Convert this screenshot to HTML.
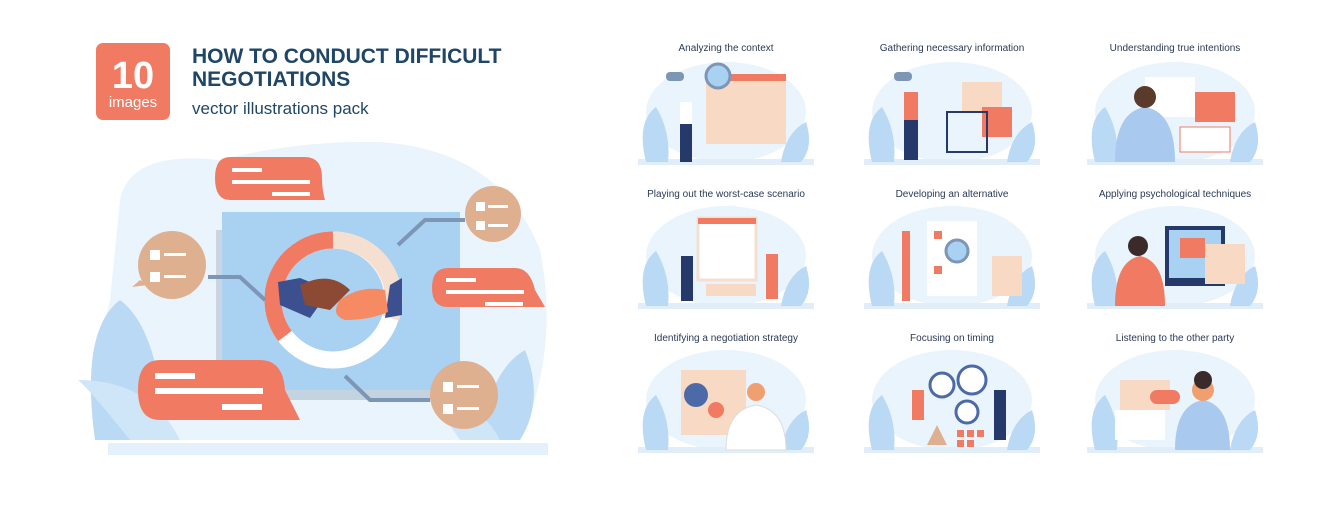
<!DOCTYPE html>
<html><head><meta charset="utf-8"><style>
body{margin:0;background:#fff;width:1336px;height:500px;overflow:hidden;font-family:"Liberation Sans",sans-serif}
</style></head><body>
<svg width="1336" height="500" viewBox="0 0 1336 500" xmlns="http://www.w3.org/2000/svg" font-family="Liberation Sans, sans-serif">
<rect width="1336" height="500" fill="#fff"/>
<!-- badge -->
<rect x="96" y="43" width="74" height="77" rx="7" fill="#f07b62"/>
<text x="133" y="88" font-size="38" font-weight="bold" fill="#fff" text-anchor="middle">10</text>
<text x="133" y="107" font-size="15" fill="#fff" text-anchor="middle">images</text>
<text x="192" y="63" font-size="21" font-weight="bold" fill="#1f4666">HOW TO CONDUCT DIFFICULT</text>
<text x="192" y="86" font-size="21" font-weight="bold" fill="#1f4666">NEGOTIATIONS</text>
<text x="192" y="114" font-size="17" fill="#1f4666">vector illustrations pack</text>
<!-- big blob -->
<path d="M120 200 Q130 150 220 160 Q300 140 380 142 Q500 150 540 250 Q560 350 520 440 L130 440 Q90 380 110 300 Z" fill="#eaf4fc"/>
<rect x="108" y="443" width="440" height="12" fill="#e4f0fb"/>
<!-- leaves -->
<path d="M95 440 Q80 330 120 300 Q160 330 165 440 Z" fill="#b9d9f5"/>
<path d="M130 440 Q90 390 78 380 Q150 380 180 440 Z" fill="#cfe5f8"/>
<path d="M480 440 Q490 370 525 350 Q545 400 520 440 Z" fill="#b9d9f5"/>
<path d="M460 440 Q440 410 430 400 Q480 400 500 440 Z" fill="#cfe5f8"/>
<!-- monitor -->
<rect x="216" y="230" width="10" height="160" fill="#c9d6e2"/>
<rect x="222" y="212" width="238" height="186" fill="#a9d1f2"/>
<rect x="222" y="390" width="238" height="10" fill="#c4d3e0"/>
<!-- ring -->
<circle cx="333" cy="300" r="60" fill="none" stroke="#fff" stroke-width="17"/>
<path d="M333 240 A60 60 0 0 0 285 336" fill="none" stroke="#f07b62" stroke-width="17"/>
<path d="M333 240 A60 60 0 0 1 391 318" fill="none" stroke="#f5dfd0" stroke-width="17"/>
<circle cx="333" cy="300" r="51" fill="#a9d1f2"/>
<!-- hands -->
<path d="M278 282 L300 278 L330 290 L310 318 L280 305 Z" fill="#3c4f8f"/>
<path d="M300 285 Q330 270 350 290 L330 310 L305 305 Z" fill="#8c4a34"/>
<path d="M390 285 L402 278 L402 315 L385 318 Z" fill="#3c4f8f"/>
<path d="M385 290 Q360 285 340 300 Q330 315 345 320 Q370 320 388 312 Z" fill="#f58a63"/>
<!-- connectors -->
<polyline points="208,277 240,277 265,300" fill="none" stroke="#7d96b6" stroke-width="4"/>
<polyline points="398,245 425,220 465,220" fill="none" stroke="#7d96b6" stroke-width="4"/>
<polyline points="345,376 370,400 430,400" fill="none" stroke="#7d96b6" stroke-width="4"/>
<!-- bubbles -->
<path d="M230 157 H305 Q322 157 322 178 Q322 190 325 200 L230 200 Q215 200 215 178 Q215 157 230 157 Z" fill="#f07b62"/>
<rect x="232" y="168" width="30" height="4" fill="#fff"/><rect x="232" y="180" width="78" height="4" fill="#fff"/><rect x="272" y="192" width="38" height="4" fill="#fff"/>
<circle cx="172" cy="265" r="34" fill="#dfb08f"/><path d="M140 280 L132 287 L148 285Z" fill="#dfb08f"/>
<circle cx="493" cy="214" r="28" fill="#dfb08f"/>
<path d="M448 268 H515 Q530 268 535 290 L545 307 L448 307 Q432 307 432 288 Q432 268 448 268 Z" fill="#f07b62"/>
<rect x="446" y="278" width="30" height="4" fill="#fff"/><rect x="446" y="290" width="78" height="4" fill="#fff"/><rect x="485" y="302" width="38" height="4" fill="#fff"/>
<path d="M160 360 H260 Q283 360 285 390 L300 420 L160 420 Q138 420 138 390 Q138 360 160 360 Z" fill="#f07b62"/>
<rect x="155" y="373" width="40" height="6" fill="#fff"/><rect x="155" y="388" width="108" height="6" fill="#fff"/><rect x="222" y="404" width="40" height="6" fill="#fff"/>
<circle cx="464" cy="395" r="34" fill="#dfb08f"/>
<g fill="#fff"><rect x="150" y="250" width="10" height="10"/><rect x="150" y="272" width="10" height="10"/><rect x="164" y="253" width="22" height="3"/><rect x="164" y="275" width="22" height="3"/>
<rect x="476" y="202" width="9" height="9"/><rect x="476" y="221" width="9" height="9"/><rect x="488" y="205" width="20" height="3"/><rect x="488" y="224" width="20" height="3"/>
<rect x="443" y="382" width="10" height="10"/><rect x="443" y="404" width="10" height="10"/><rect x="457" y="385" width="22" height="3"/><rect x="457" y="407" width="22" height="3"/></g>

<!-- thumbnails -->
<g font-size="10" fill="#2b3a55" text-anchor="middle">
<text x="726" y="51">Analyzing the context</text>
<text x="952" y="51">Gathering necessary information</text>
<text x="1175" y="51">Understanding true intentions</text>
<text x="726" y="197">Playing out the worst-case scenario</text>
<text x="952" y="197">Developing an alternative</text>
<text x="1175" y="197">Applying psychological techniques</text>
<text x="726" y="341">Identifying a negotiation strategy</text>
<text x="952" y="341">Focusing on timing</text>
<text x="1175" y="341">Listening to the other party</text>
</g>
<defs>
<g id="base">
<ellipse cx="0" cy="50" rx="80" ry="50" fill="#eaf4fc"/>
<rect x="-88" y="97" width="176" height="6" fill="#e1eefa"/>
<path d="M-80 100 Q-90 60 -70 45 Q-55 70 -58 100 Z" fill="#b9d9f5"/>
<path d="M55 100 Q60 70 80 60 Q88 85 75 100 Z" fill="#b9d9f5"/>
</g>
</defs>
<g transform="translate(726,62)"><use href="#base"/>
<rect x="-20" y="12" width="80" height="70" fill="#f7d9c4"/><rect x="-20" y="12" width="80" height="7" fill="#f07b62"/>
<circle cx="-8" cy="14" r="12" fill="#a9d1f2" stroke="#7d96b6" stroke-width="3"/>
<rect x="-46" y="40" width="12" height="30" fill="#fff"/><rect x="-46" y="62" width="12" height="38" fill="#253a6b"/>
<rect x="-60" y="10" width="18" height="9" rx="4" fill="#7d96b6"/></g>
<g transform="translate(952,62)"><use href="#base"/>
<rect x="10" y="20" width="40" height="30" fill="#f7d9c4"/><rect x="30" y="45" width="30" height="30" fill="#f07b62"/>
<rect x="-5" y="50" width="40" height="40" fill="none" stroke="#253a6b" stroke-width="2"/>
<rect x="-48" y="30" width="14" height="30" fill="#f07b62"/><rect x="-48" y="58" width="14" height="40" fill="#253a6b"/>
<rect x="-58" y="10" width="18" height="9" rx="4" fill="#7d96b6"/></g>
<g transform="translate(1175,62)"><use href="#base"/>
<rect x="-30" y="15" width="50" height="40" fill="#fff"/><rect x="20" y="30" width="40" height="30" fill="#f07b62"/>
<path d="M-60 100 Q-60 50 -30 45 Q0 50 0 100 Z" fill="#a9c9ef"/><circle cx="-30" cy="35" r="11" fill="#5a3a2a"/>
<rect x="5" y="65" width="50" height="25" fill="#fff" stroke="#f07b62"/></g>
<g transform="translate(726,206)"><use href="#base"/>
<rect x="-28" y="12" width="58" height="62" fill="#fff" stroke="#f5dfd0" stroke-width="3"/><rect x="-28" y="12" width="58" height="6" fill="#f07b62"/>
<rect x="-45" y="50" width="12" height="45" fill="#253a6b"/><rect x="40" y="48" width="12" height="45" fill="#f07b62"/>
<rect x="-20" y="78" width="50" height="12" fill="#f7d9c4"/></g>
<g transform="translate(952,206)"><use href="#base"/>
<rect x="-25" y="15" width="50" height="75" fill="#fff"/><circle cx="5" cy="45" r="11" fill="#a9d1f2" stroke="#7d96b6" stroke-width="3"/>
<rect x="-50" y="25" width="8" height="70" fill="#f07b62"/><rect x="40" y="50" width="30" height="40" fill="#f7d9c4"/>
<rect x="-18" y="25" width="8" height="8" fill="#f07b62"/><rect x="-18" y="60" width="8" height="8" fill="#f07b62"/></g>
<g transform="translate(1175,206)"><use href="#base"/>
<rect x="-10" y="20" width="60" height="60" fill="#253a6b"/><rect x="-6" y="24" width="52" height="48" fill="#a9d1f2"/>
<rect x="5" y="32" width="25" height="20" fill="#f07b62"/><rect x="30" y="38" width="40" height="40" fill="#f7d9c4"/>
<path d="M-60 100 Q-60 55 -35 50 Q-10 55 -10 100 Z" fill="#f07b62"/><circle cx="-37" cy="40" r="10" fill="#3a2a2a"/></g>
<g transform="translate(726,350)"><use href="#base"/>
<rect x="-45" y="20" width="65" height="65" fill="#f7d9c4"/><circle cx="-30" cy="45" r="12" fill="#4c6aa8"/><circle cx="-10" cy="60" r="8" fill="#f07b62"/>
<path d="M0 100 Q0 60 30 55 Q60 60 60 100 Z" fill="#fff" stroke="#ddd"/><circle cx="30" cy="42" r="9" fill="#f0a070"/></g>
<g transform="translate(952,350)"><use href="#base"/>
<circle cx="-10" cy="35" r="12" fill="#fff" stroke="#4c6aa8" stroke-width="3"/><circle cx="20" cy="30" r="14" fill="#fff" stroke="#4c6aa8" stroke-width="3"/><circle cx="15" cy="62" r="11" fill="#fff" stroke="#4c6aa8" stroke-width="3"/>
<g fill="#f07b62"><rect x="5" y="80" width="7" height="7"/><rect x="15" y="80" width="7" height="7"/><rect x="25" y="80" width="7" height="7"/><rect x="5" y="90" width="7" height="7"/><rect x="15" y="90" width="7" height="7"/></g>
<rect x="-40" y="40" width="12" height="30" fill="#f07b62"/><rect x="42" y="40" width="12" height="50" fill="#253a6b"/><path d="M-25 95 L-5 95 L-15 75Z" fill="#dfb08f"/></g>
<g transform="translate(1175,350)"><use href="#base"/>
<rect x="-55" y="30" width="50" height="30" fill="#f7d9c4"/><rect x="-60" y="60" width="50" height="30" fill="#fff"/>
<rect x="-25" y="40" width="30" height="14" rx="7" fill="#f07b62"/>
<path d="M0 100 Q0 55 28 50 Q55 55 55 100 Z" fill="#a9c9ef"/><circle cx="28" cy="40" r="11" fill="#f0a070"/><circle cx="28" cy="30" r="9" fill="#3a2a2a"/></g>
</svg>
</body></html>
